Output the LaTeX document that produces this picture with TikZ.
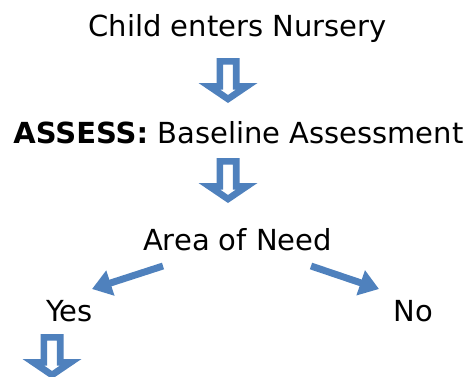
\documentclass[tikz,border=0pt]{standalone}
\usepackage{fontspec}
\setmainfont{DejaVu Sans}
\usetikzlibrary{arrows.meta}
\definecolor{arrowblue}{HTML}{4F81BD}
\tikzset{
  blockarrow/.pic={
    \begin{scope}
      \clip (-11.5,0) -- (11.5,0) -- (11.5,25) -- (29.5,25) -- (0,45) -- (-29.5,25) -- (-11.5,25) -- cycle;
      \draw[draw=arrowblue, fill=white, line width=10pt] (-11.5,0) -- (11.5,0) -- (11.5,25) -- (29.5,25) -- (0,45) -- (-29.5,25) -- (-11.5,25) -- cycle;
    \end{scope}
  }
}
\begin{document}
\begin{tikzpicture}[x=0.75pt,y=-0.75pt,
  txt/.style={font=\fontsize{21.75pt}{26pt}\selectfont, inner sep=0pt, anchor=base},
  thinarrow/.style={draw=arrowblue, line width=5.2pt, -{Triangle[length=14.5pt,width=19pt]}}]
\useasboundingbox (0,0) rectangle (469,376);
\clip (0,0) rectangle (469,376);
\node[txt] (child) at (237.5,36) {Child enters Nursery};
\node[txt] (assess) at (238.5,143) {\textbf{ASSESS:} Baseline Assessment};
\node[txt] (need) at (237.5,250) {Area of Need};
\node[txt] (yes) at (69.5,321) {Yes};
\node[txt] (no) at (413.5,321) {No};
\pic (a1) at (228,58) {blockarrow};
\pic (a2) at (228,158) {blockarrow};
\pic (a3) at (52,334) {blockarrow};
\coordinate (ls) at (163,266);
\coordinate (le) at (92,289);
\coordinate (rs) at (311,266);
\coordinate (re) at (379,289);
\draw[thinarrow] (ls) -- (le);
\draw[thinarrow] (rs) -- (re);
\end{tikzpicture}
\end{document}
